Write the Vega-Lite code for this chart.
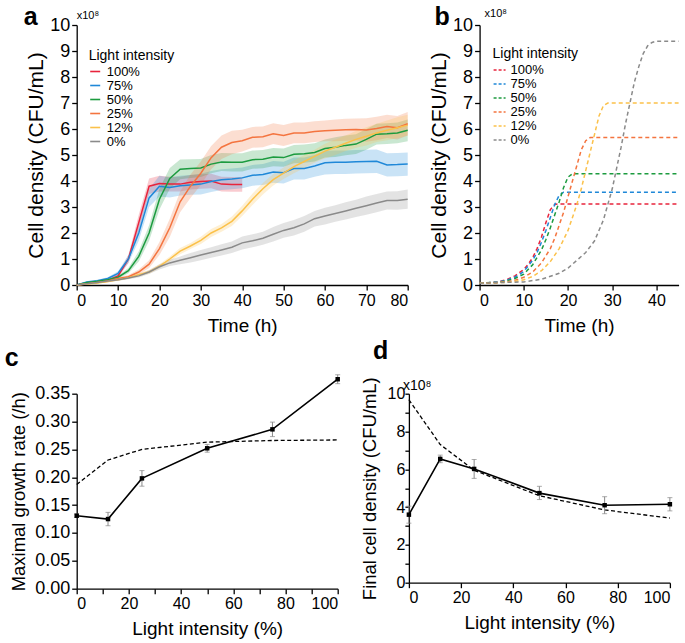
{
  "$schema": "https://vega.github.io/schema/vega-lite/v6.json",
  "padding": {"left": 4.7, "top": 5, "right": 0, "bottom": 0},
  "config": {
    "font": "Liberation Sans",
    "view": {"stroke": null},
    "axis": {"grid": false, "labelOverlap": false, "labelBound": false, "tickCount": 40, "domainColor": "black", "tickColor": "black", "labelColor": "black", "titleColor": "black", "titleFontWeight": "normal", "domainWidth": 1.3, "tickWidth": 1.3, "tickSize": 5, "labelPadding": 2, "labelFont": "Liberation Sans", "titleFont": "Liberation Sans"},
    "legend": {"titleFontWeight": "normal", "titleColor": "black", "labelColor": "black", "titleFont": "Liberation Sans", "labelFont": "Liberation Sans"}
  },
  "datasets": {
    "growth": [
      {"s":"100%","t":0,"v":0,"lo":0,"hi":0.01},{"s":"100%","t":2.5,"v":0.08,"lo":0.05,"hi":0.11},{"s":"100%","t":5,"v":0.13,"lo":0.1,"hi":0.16},{"s":"100%","t":7.5,"v":0.18,"lo":0.13,"hi":0.23},{"s":"100%","t":10,"v":0.35,"lo":0.27,"hi":0.43},{"s":"100%","t":12.5,"v":1.0,"lo":0.85,"hi":1.15},{"s":"100%","t":15,"v":2.4,"lo":2.1,"hi":2.7},{"s":"100%","t":17.5,"v":3.8,"lo":3.5,"hi":4.1},{"s":"100%","t":20,"v":3.9,"lo":3.6,"hi":4.2},{"s":"100%","t":22.5,"v":3.88,"lo":3.6,"hi":4.16},{"s":"100%","t":25,"v":3.88,"lo":3.6,"hi":4.16},{"s":"100%","t":27.5,"v":3.95,"lo":3.67,"hi":4.23},{"s":"100%","t":30,"v":3.98,"lo":3.7,"hi":4.26},{"s":"100%","t":32.5,"v":4.0,"lo":3.72,"hi":4.28},{"s":"100%","t":35,"v":3.88,"lo":3.6,"hi":4.16},{"s":"100%","t":37.5,"v":3.87,"lo":3.59,"hi":4.15},{"s":"100%","t":40,"v":3.87,"lo":3.59,"hi":4.15},
      {"s":"75%","t":0,"v":0,"lo":0,"hi":0.01},{"s":"75%","t":2.5,"v":0.12,"lo":0.09,"hi":0.15},{"s":"75%","t":5,"v":0.16,"lo":0.12,"hi":0.2},{"s":"75%","t":7.5,"v":0.25,"lo":0.2,"hi":0.3},{"s":"75%","t":10,"v":0.45,"lo":0.37,"hi":0.53},{"s":"75%","t":12.5,"v":1.0,"lo":0.85,"hi":1.15},{"s":"75%","t":15,"v":2.0,"lo":1.7,"hi":2.3},{"s":"75%","t":17.5,"v":3.35,"lo":3.0,"hi":3.7},{"s":"75%","t":20,"v":3.8,"lo":3.4,"hi":4.2},{"s":"75%","t":22.5,"v":3.75,"lo":3.37,"hi":4.13},{"s":"75%","t":25,"v":3.82,"lo":3.44,"hi":4.2},{"s":"75%","t":27.5,"v":3.85,"lo":3.47,"hi":4.23},{"s":"75%","t":30,"v":3.88,"lo":3.48,"hi":4.28},{"s":"75%","t":32.5,"v":3.98,"lo":3.58,"hi":4.38},{"s":"75%","t":35,"v":4.05,"lo":3.65,"hi":4.45},{"s":"75%","t":37.5,"v":4.08,"lo":3.68,"hi":4.48},{"s":"75%","t":40,"v":4.12,"lo":3.72,"hi":4.52},{"s":"75%","t":42.5,"v":4.22,"lo":3.82,"hi":4.62},{"s":"75%","t":45,"v":4.25,"lo":3.85,"hi":4.65},{"s":"75%","t":47.5,"v":4.35,"lo":3.93,"hi":4.77},{"s":"75%","t":50,"v":4.32,"lo":3.9,"hi":4.74},{"s":"75%","t":52.5,"v":4.48,"lo":4.06,"hi":4.9},{"s":"75%","t":55,"v":4.48,"lo":4.06,"hi":4.9},{"s":"75%","t":57.5,"v":4.58,"lo":4.16,"hi":5.0},{"s":"75%","t":60,"v":4.7,"lo":4.25,"hi":5.15},{"s":"75%","t":62.5,"v":4.72,"lo":4.27,"hi":5.17},{"s":"75%","t":65,"v":4.72,"lo":4.27,"hi":5.17},{"s":"75%","t":67.5,"v":4.74,"lo":4.29,"hi":5.19},{"s":"75%","t":70,"v":4.75,"lo":4.3,"hi":5.2},{"s":"75%","t":72.5,"v":4.76,"lo":4.31,"hi":5.21},{"s":"75%","t":75,"v":4.62,"lo":4.17,"hi":5.07},{"s":"75%","t":77.5,"v":4.63,"lo":4.18,"hi":5.08},{"s":"75%","t":80,"v":4.65,"lo":4.2,"hi":5.1},
      {"s":"50%","t":0,"v":0,"lo":0,"hi":0.01},{"s":"50%","t":2.5,"v":0.1,"lo":0.07,"hi":0.13},{"s":"50%","t":5,"v":0.14,"lo":0.11,"hi":0.17},{"s":"50%","t":7.5,"v":0.2,"lo":0.16,"hi":0.24},{"s":"50%","t":10,"v":0.3,"lo":0.24,"hi":0.36},{"s":"50%","t":12.5,"v":0.55,"lo":0.45,"hi":0.65},{"s":"50%","t":15,"v":1.1,"lo":0.9,"hi":1.3},{"s":"50%","t":17.5,"v":2.0,"lo":1.7,"hi":2.3},{"s":"50%","t":20,"v":3.3,"lo":2.9,"hi":3.7},{"s":"50%","t":22.5,"v":4.1,"lo":3.7,"hi":4.5},{"s":"50%","t":25,"v":4.45,"lo":4.07,"hi":4.83},{"s":"50%","t":27.5,"v":4.48,"lo":4.12,"hi":4.84},{"s":"50%","t":30,"v":4.5,"lo":4.15,"hi":4.85},{"s":"50%","t":32.5,"v":4.65,"lo":4.3,"hi":5.0},{"s":"50%","t":35,"v":4.73,"lo":4.38,"hi":5.08},{"s":"50%","t":37.5,"v":4.72,"lo":4.37,"hi":5.07},{"s":"50%","t":40,"v":4.72,"lo":4.37,"hi":5.07},{"s":"50%","t":42.5,"v":4.82,"lo":4.47,"hi":5.17},{"s":"50%","t":45,"v":4.84,"lo":4.49,"hi":5.19},{"s":"50%","t":47.5,"v":4.92,"lo":4.57,"hi":5.27},{"s":"50%","t":50,"v":4.9,"lo":4.55,"hi":5.25},{"s":"50%","t":52.5,"v":5.03,"lo":4.68,"hi":5.38},{"s":"50%","t":55,"v":5.05,"lo":4.7,"hi":5.4},{"s":"50%","t":57.5,"v":5.1,"lo":4.75,"hi":5.45},{"s":"50%","t":60,"v":5.25,"lo":4.9,"hi":5.6},{"s":"50%","t":62.5,"v":5.3,"lo":4.92,"hi":5.68},{"s":"50%","t":65,"v":5.37,"lo":4.99,"hi":5.75},{"s":"50%","t":67.5,"v":5.42,"lo":5.04,"hi":5.8},{"s":"50%","t":70,"v":5.6,"lo":5.2,"hi":6.0},{"s":"50%","t":72.5,"v":5.8,"lo":5.4,"hi":6.2},{"s":"50%","t":75,"v":5.82,"lo":5.42,"hi":6.22},{"s":"50%","t":77.5,"v":5.85,"lo":5.45,"hi":6.25},{"s":"50%","t":80,"v":5.95,"lo":5.53,"hi":6.37},
      {"s":"25%","t":0,"v":0,"lo":0,"hi":0.01},{"s":"25%","t":2.5,"v":0.05,"lo":0.03,"hi":0.07},{"s":"25%","t":5,"v":0.1,"lo":0.07,"hi":0.13},{"s":"25%","t":7.5,"v":0.15,"lo":0.11,"hi":0.19},{"s":"25%","t":10,"v":0.25,"lo":0.2,"hi":0.3},{"s":"25%","t":12.5,"v":0.32,"lo":0.26,"hi":0.38},{"s":"25%","t":15,"v":0.5,"lo":0.4,"hi":0.6},{"s":"25%","t":17.5,"v":0.8,"lo":0.65,"hi":0.95},{"s":"25%","t":20,"v":1.4,"lo":1.15,"hi":1.65},{"s":"25%","t":22.5,"v":2.2,"lo":1.85,"hi":2.55},{"s":"25%","t":25,"v":3.2,"lo":2.8,"hi":3.6},{"s":"25%","t":27.5,"v":3.8,"lo":3.35,"hi":4.25},{"s":"25%","t":30,"v":4.3,"lo":3.85,"hi":4.75},{"s":"25%","t":32.5,"v":4.9,"lo":4.45,"hi":5.35},{"s":"25%","t":35,"v":5.3,"lo":4.85,"hi":5.75},{"s":"25%","t":37.5,"v":5.48,"lo":5.03,"hi":5.93},{"s":"25%","t":40,"v":5.55,"lo":5.13,"hi":5.97},{"s":"25%","t":42.5,"v":5.68,"lo":5.28,"hi":6.08},{"s":"25%","t":45,"v":5.7,"lo":5.3,"hi":6.1},{"s":"25%","t":47.5,"v":5.82,"lo":5.42,"hi":6.22},{"s":"25%","t":50,"v":5.75,"lo":5.35,"hi":6.15},{"s":"25%","t":52.5,"v":5.85,"lo":5.45,"hi":6.25},{"s":"25%","t":55,"v":5.85,"lo":5.45,"hi":6.25},{"s":"25%","t":57.5,"v":5.9,"lo":5.5,"hi":6.3},{"s":"25%","t":60,"v":5.93,"lo":5.53,"hi":6.33},{"s":"25%","t":62.5,"v":5.95,"lo":5.53,"hi":6.37},{"s":"25%","t":65,"v":5.97,"lo":5.55,"hi":6.39},{"s":"25%","t":67.5,"v":5.98,"lo":5.56,"hi":6.4},{"s":"25%","t":70,"v":5.96,"lo":5.51,"hi":6.41},{"s":"25%","t":72.5,"v":6.02,"lo":5.57,"hi":6.47},{"s":"25%","t":75,"v":6.1,"lo":5.65,"hi":6.55},{"s":"25%","t":77.5,"v":6.05,"lo":5.6,"hi":6.5},{"s":"25%","t":80,"v":6.2,"lo":5.75,"hi":6.65},
      {"s":"12%","t":0,"v":0,"lo":0,"hi":0.01},{"s":"12%","t":2.5,"v":0.04,"lo":0.02,"hi":0.06},{"s":"12%","t":5,"v":0.08,"lo":0.06,"hi":0.1},{"s":"12%","t":7.5,"v":0.13,"lo":0.1,"hi":0.16},{"s":"12%","t":10,"v":0.2,"lo":0.16,"hi":0.24},{"s":"12%","t":12.5,"v":0.28,"lo":0.23,"hi":0.33},{"s":"12%","t":15,"v":0.4,"lo":0.34,"hi":0.46},{"s":"12%","t":17.5,"v":0.5,"lo":0.43,"hi":0.57},{"s":"12%","t":20,"v":0.72,"lo":0.64,"hi":0.8},{"s":"12%","t":22.5,"v":1.0,"lo":0.9,"hi":1.1},{"s":"12%","t":25,"v":1.3,"lo":1.18,"hi":1.42},{"s":"12%","t":27.5,"v":1.5,"lo":1.38,"hi":1.62},{"s":"12%","t":30,"v":1.72,"lo":1.58,"hi":1.86},{"s":"12%","t":32.5,"v":2.0,"lo":1.85,"hi":2.15},{"s":"12%","t":35,"v":2.2,"lo":2.05,"hi":2.35},{"s":"12%","t":37.5,"v":2.45,"lo":2.27,"hi":2.63},{"s":"12%","t":40,"v":2.85,"lo":2.65,"hi":3.05},{"s":"12%","t":42.5,"v":3.3,"lo":3.08,"hi":3.52},{"s":"12%","t":45,"v":3.7,"lo":3.48,"hi":3.92},{"s":"12%","t":47.5,"v":4.05,"lo":3.83,"hi":4.27},{"s":"12%","t":50,"v":4.3,"lo":4.08,"hi":4.52},{"s":"12%","t":52.5,"v":4.55,"lo":4.3,"hi":4.8},{"s":"12%","t":55,"v":4.75,"lo":4.5,"hi":5.0},{"s":"12%","t":57.5,"v":4.95,"lo":4.7,"hi":5.2},{"s":"12%","t":60,"v":5.15,"lo":4.87,"hi":5.43},{"s":"12%","t":62.5,"v":5.3,"lo":5.0,"hi":5.6},{"s":"12%","t":65,"v":5.45,"lo":5.15,"hi":5.75},{"s":"12%","t":67.5,"v":5.6,"lo":5.28,"hi":5.92},{"s":"12%","t":70,"v":5.72,"lo":5.37,"hi":6.07},{"s":"12%","t":72.5,"v":5.85,"lo":5.5,"hi":6.2},{"s":"12%","t":75,"v":5.95,"lo":5.57,"hi":6.33},{"s":"12%","t":77.5,"v":6.05,"lo":5.65,"hi":6.45},{"s":"12%","t":80,"v":6.15,"lo":5.75,"hi":6.55},
      {"s":"0%","t":0,"v":0,"lo":0,"hi":0.01},{"s":"0%","t":2.5,"v":0.05,"lo":0.03,"hi":0.07},{"s":"0%","t":5,"v":0.1,"lo":0.08,"hi":0.12},{"s":"0%","t":7.5,"v":0.15,"lo":0.12,"hi":0.18},{"s":"0%","t":10,"v":0.2,"lo":0.16,"hi":0.24},{"s":"0%","t":12.5,"v":0.27,"lo":0.22,"hi":0.32},{"s":"0%","t":15,"v":0.35,"lo":0.29,"hi":0.41},{"s":"0%","t":17.5,"v":0.5,"lo":0.42,"hi":0.58},{"s":"0%","t":20,"v":0.7,"lo":0.6,"hi":0.8},{"s":"0%","t":22.5,"v":0.85,"lo":0.73,"hi":0.97},{"s":"0%","t":25,"v":0.95,"lo":0.8,"hi":1.1},{"s":"0%","t":27.5,"v":1.05,"lo":0.87,"hi":1.23},{"s":"0%","t":30,"v":1.15,"lo":0.95,"hi":1.35},{"s":"0%","t":32.5,"v":1.25,"lo":1.05,"hi":1.45},{"s":"0%","t":35,"v":1.35,"lo":1.13,"hi":1.57},{"s":"0%","t":37.5,"v":1.45,"lo":1.23,"hi":1.67},{"s":"0%","t":40,"v":1.62,"lo":1.37,"hi":1.87},{"s":"0%","t":42.5,"v":1.7,"lo":1.45,"hi":1.95},{"s":"0%","t":45,"v":1.8,"lo":1.55,"hi":2.05},{"s":"0%","t":47.5,"v":1.95,"lo":1.67,"hi":2.23},{"s":"0%","t":50,"v":2.1,"lo":1.82,"hi":2.38},{"s":"0%","t":52.5,"v":2.2,"lo":1.9,"hi":2.5},{"s":"0%","t":55,"v":2.35,"lo":2.05,"hi":2.65},{"s":"0%","t":57.5,"v":2.55,"lo":2.25,"hi":2.85},{"s":"0%","t":60,"v":2.65,"lo":2.33,"hi":2.97},{"s":"0%","t":62.5,"v":2.75,"lo":2.43,"hi":3.07},{"s":"0%","t":65,"v":2.85,"lo":2.52,"hi":3.18},{"s":"0%","t":67.5,"v":2.95,"lo":2.62,"hi":3.28},{"s":"0%","t":70,"v":3.05,"lo":2.7,"hi":3.4},{"s":"0%","t":72.5,"v":3.15,"lo":2.8,"hi":3.5},{"s":"0%","t":75,"v":3.25,"lo":2.9,"hi":3.6},{"s":"0%","t":77.5,"v":3.25,"lo":2.89,"hi":3.61},{"s":"0%","t":80,"v":3.3,"lo":2.93,"hi":3.67}
    ],
    "model": [
      {"s":"100%","t":0,"v":0.08},{"s":"100%","t":2,"v":0.09},{"s":"100%","t":4,"v":0.12},{"s":"100%","t":6,"v":0.2},{"s":"100%","t":8,"v":0.35},{"s":"100%","t":10,"v":0.6},{"s":"100%","t":11,"v":0.8},{"s":"100%","t":12,"v":1.05},{"s":"100%","t":13,"v":1.4},{"s":"100%","t":14,"v":1.85},{"s":"100%","t":15,"v":2.4},{"s":"100%","t":16,"v":2.9},{"s":"100%","t":17,"v":3.1},{"s":"100%","t":18,"v":3.12},{"s":"100%","t":45,"v":3.12},
      {"s":"75%","t":0,"v":0.08},{"s":"75%","t":2,"v":0.09},{"s":"75%","t":4,"v":0.11},{"s":"75%","t":6,"v":0.18},{"s":"75%","t":8,"v":0.3},{"s":"75%","t":10,"v":0.52},{"s":"75%","t":12,"v":0.95},{"s":"75%","t":13,"v":1.25},{"s":"75%","t":14,"v":1.65},{"s":"75%","t":15,"v":2.1},{"s":"75%","t":16,"v":2.6},{"s":"75%","t":17,"v":3.1},{"s":"75%","t":18,"v":3.45},{"s":"75%","t":19,"v":3.57},{"s":"75%","t":45,"v":3.57},
      {"s":"50%","t":0,"v":0.08},{"s":"50%","t":4,"v":0.1},{"s":"50%","t":6,"v":0.15},{"s":"50%","t":8,"v":0.25},{"s":"50%","t":10,"v":0.42},{"s":"50%","t":12,"v":0.78},{"s":"50%","t":14,"v":1.35},{"s":"50%","t":15,"v":1.75},{"s":"50%","t":16,"v":2.2},{"s":"50%","t":17,"v":2.7},{"s":"50%","t":18,"v":3.2},{"s":"50%","t":19,"v":3.75},{"s":"50%","t":20,"v":4.15},{"s":"50%","t":21,"v":4.28},{"s":"50%","t":45,"v":4.28},
      {"s":"25%","t":0,"v":0.07},{"s":"25%","t":4,"v":0.09},{"s":"25%","t":6,"v":0.12},{"s":"25%","t":8,"v":0.18},{"s":"25%","t":10,"v":0.3},{"s":"25%","t":12,"v":0.5},{"s":"25%","t":14,"v":0.85},{"s":"25%","t":16,"v":1.4},{"s":"25%","t":17,"v":1.8},{"s":"25%","t":18,"v":2.3},{"s":"25%","t":19,"v":2.8},{"s":"25%","t":20,"v":3.4},{"s":"25%","t":21,"v":4.0},{"s":"25%","t":22,"v":4.6},{"s":"25%","t":23,"v":5.2},{"s":"25%","t":24,"v":5.55},{"s":"25%","t":25,"v":5.67},{"s":"25%","t":45,"v":5.67},
      {"s":"12%","t":0,"v":0.07},{"s":"12%","t":6,"v":0.1},{"s":"12%","t":8,"v":0.14},{"s":"12%","t":10,"v":0.2},{"s":"12%","t":12,"v":0.33},{"s":"12%","t":14,"v":0.55},{"s":"12%","t":16,"v":0.9},{"s":"12%","t":18,"v":1.4},{"s":"12%","t":20,"v":2.1},{"s":"12%","t":21,"v":2.6},{"s":"12%","t":22,"v":3.1},{"s":"12%","t":23,"v":3.7},{"s":"12%","t":24,"v":4.4},{"s":"12%","t":25,"v":5.1},{"s":"12%","t":26,"v":5.8},{"s":"12%","t":27,"v":6.5},{"s":"12%","t":28,"v":6.9},{"s":"12%","t":29,"v":7.0},{"s":"12%","t":45,"v":7.0},
      {"s":"0%","t":0,"v":0.07},{"s":"0%","t":10,"v":0.12},{"s":"0%","t":14,"v":0.22},{"s":"0%","t":18,"v":0.45},{"s":"0%","t":20,"v":0.65},{"s":"0%","t":22,"v":0.95},{"s":"0%","t":24,"v":1.25},{"s":"0%","t":26,"v":1.7},{"s":"0%","t":28,"v":2.5},{"s":"0%","t":29,"v":3.1},{"s":"0%","t":30,"v":3.7},{"s":"0%","t":31,"v":4.5},{"s":"0%","t":32,"v":5.3},{"s":"0%","t":33,"v":6.2},{"s":"0%","t":34,"v":7.0},{"s":"0%","t":35,"v":7.8},{"s":"0%","t":36,"v":8.4},{"s":"0%","t":37,"v":8.9},{"s":"0%","t":38,"v":9.2},{"s":"0%","t":39,"v":9.33},{"s":"0%","t":40,"v":9.38},{"s":"0%","t":45,"v":9.38}
    ],
    "rateObs": [
      {"x":0,"v":0.131,"lo":0.128,"hi":0.134},{"x":12,"v":0.125,"lo":0.113,"hi":0.137},{"x":25,"v":0.198,"lo":0.184,"hi":0.212},{"x":50,"v":0.252,"lo":0.245,"hi":0.259},{"x":75,"v":0.286,"lo":0.273,"hi":0.299},{"x":100,"v":0.376,"lo":0.368,"hi":0.384}
    ],
    "rateModel": [
      {"x":0,"v":0.187},{"x":12,"v":0.231},{"x":25,"v":0.25},{"x":50,"v":0.263},{"x":75,"v":0.266},{"x":100,"v":0.267}
    ],
    "finalObs": [
      {"x":0,"v":3.6,"lo":3.15,"hi":4.05},{"x":12,"v":6.55,"lo":6.35,"hi":6.75},{"x":25,"v":6.02,"lo":5.52,"hi":6.52},{"x":50,"v":4.74,"lo":4.4,"hi":5.1},{"x":75,"v":4.1,"lo":3.65,"hi":4.55},{"x":100,"v":4.15,"lo":3.8,"hi":4.5}
    ],
    "finalModel": [
      {"x":0,"v":9.68},{"x":12,"v":7.31},{"x":25,"v":5.95},{"x":50,"v":4.6},{"x":75,"v":3.85},{"x":100,"v":3.42}
    ],
    "notes": [{"lab": "x10⁸"}]
  },
  "align": "none",
  "vconcat": [
    {
      "hconcat": [
        {
          "width": 331, "height": 260,
          "layer": [
            {
              "data": {"name": "growth"},
              "mark": {"type": "area", "opacity": 0.24},
              "encoding": {
                "x": {"field": "t", "type": "quantitative", "scale": {"domain": [0, 80]}, "axis": {"title": "Time (h)", "values": [0,10,20,30,40,50,60,70,80], "labelFontSize": 16, "titleFontSize": 19, "titlePadding": 9}},
                "y": {"field": "lo", "type": "quantitative", "title": "Cell density (CFU/mL)", "scale": {"domain": [0, 10]}, "axis": {"values": [0,1,2,3,4,5,6,7,8,9,10], "format": "d", "labelFontSize": 18, "titleFontSize": 21, "titlePadding": 3}},
                "y2": {"field": "hi"},
                "color": {"field": "s", "type": "nominal", "scale": {"domain": ["100%","75%","50%","25%","12%","0%"], "range": ["#e8243c","#1f88d8","#1c9b3f","#f4743f","#fbc14a","#8a8a8a"]}, "legend": null}
              }
            },
            {
              "data": {"name": "growth"},
              "mark": {"type": "line", "strokeWidth": 1.5},
              "encoding": {
                "x": {"field": "t", "type": "quantitative"},
                "y": {"field": "v", "type": "quantitative", "title": "Cell density (CFU/mL)"},
                "color": {"field": "s", "type": "nominal", "legend": {"title": "Light intensity", "orient": "none", "legendX": 12, "legendY": 24, "titleFontSize": 14, "labelFontSize": 13, "symbolType": "stroke", "symbolSize": 100, "symbolStrokeWidth": 1.6, "symbolOpacity": 1, "rowPadding": -2.3, "titlePadding": 2, "labelOffset": 5}}
              }
            },
            {
              "data": {"name": "notes"},
              "mark": {"type": "text", "align": "left", "baseline": "alphabetic", "dx": 0, "dy": -6, "fontSize": 11, "color": "black"},
              "encoding": {"x": {"datum": 0, "type": "quantitative"}, "y": {"datum": 10, "type": "quantitative"}, "text": {"field": "lab"}}
            },
            {
              "data": {"values": [{"p": "a"}]},
              "mark": {"type": "text", "align": "left", "baseline": "alphabetic", "dx": -53, "dy": 0, "fontSize": 25, "fontWeight": "bold", "color": "black"},
              "encoding": {"x": {"datum": 0, "type": "quantitative"}, "y": {"datum": 10, "type": "quantitative"}, "text": {"field": "p"}}
            }
          ],
          "resolve": {"legend": {"color": "independent"}}
        },
        {
          "width": 199, "height": 260,
          "layer": [
            {
              "data": {"name": "model"},
              "mark": {"type": "line", "strokeWidth": 1.5, "strokeDash": [4, 3]},
              "encoding": {
                "x": {"field": "t", "type": "quantitative", "scale": {"domain": [0, 45], "nice": false}, "axis": {"title": "Time (h)", "values": [0,10,20,30,40], "labelFontSize": 16, "titleFontSize": 19, "titlePadding": 9}},
                "y": {"field": "v", "type": "quantitative", "scale": {"domain": [0, 10]}, "axis": {"title": "Cell density (CFU/mL)", "values": [0,1,2,3,4,5,6,7,8,9,10], "format": "d", "labelFontSize": 18, "titleFontSize": 21, "titlePadding": 3}},
                "color": {"field": "s", "type": "nominal", "scale": {"domain": ["100%","75%","50%","25%","12%","0%"], "range": ["#e8243c","#1f88d8","#1c9b3f","#f4743f","#fbc14a","#8a8a8a"]}, "legend": {"title": "Light intensity", "orient": "none", "legendX": 13, "legendY": 22, "titleFontSize": 14, "labelFontSize": 13, "symbolType": "stroke", "symbolSize": 144, "symbolStrokeWidth": 1.5, "symbolDash": [3, 2], "rowPadding": -2.3, "titlePadding": 2, "labelOffset": 4}}
              }
            },
            {
              "data": {"name": "notes"},
              "mark": {"type": "text", "align": "left", "baseline": "alphabetic", "dx": 5, "dy": -8, "fontSize": 11, "color": "black"},
              "encoding": {"x": {"datum": 0, "type": "quantitative"}, "y": {"datum": 10, "type": "quantitative"}, "text": {"field": "lab"}}
            },
            {
              "data": {"values": [{"p": "b"}]},
              "mark": {"type": "text", "align": "left", "baseline": "alphabetic", "dx": -45, "dy": 0, "fontSize": 25, "fontWeight": "bold", "color": "black"},
              "encoding": {"x": {"datum": 0, "type": "quantitative"}, "y": {"datum": 10, "type": "quantitative"}, "text": {"field": "p"}}
            }
          ]
        }
      ],
      "spacing": 16.9,
      "resolve": {"scale": {"color": "independent"}, "legend": {"color": "independent"}}
    },
    {
      "align": "none",
      "hconcat": [
        {
          "width": 261, "height": 195,
          "layer": [
            {
              "data": {"name": "rateModel"},
              "mark": {"type": "line", "color": "black", "strokeWidth": 1.3, "strokeDash": [4, 2.5]},
              "encoding": {
                "x": {"field": "x", "type": "quantitative", "scale": {"domain": [0, 100]}, "axis": {"title": "Light intensity (%)", "values": [0,10,20,30,40,50,60,70,80,90,100], "labelExpr": "datum.value % 20 == 0 ? datum.label : ''", "labelFontSize": 16, "titleFontSize": 19, "titlePadding": 8}},
                "y": {"field": "v", "type": "quantitative", "title": "Maximal growth rate (/h)", "scale": {"domain": [0, 0.35]}, "axis": {"values": [0,0.05,0.1,0.15,0.2,0.25,0.3,0.35], "format": ".2f", "labelFontSize": 18, "titleFontSize": 18.5, "titlePadding": 6}}
              }
            },
            {
              "data": {"name": "rateObs"},
              "mark": {"type": "errorbar", "color": "#888888", "thickness": 1, "ticks": {"size": 5, "color": "#888888"}},
              "encoding": {
                "x": {"field": "x", "type": "quantitative"},
                "y": {"field": "lo", "type": "quantitative", "title": "Maximal growth rate (/h)"},
                "y2": {"field": "hi"}
              }
            },
            {
              "data": {"name": "rateObs"},
              "mark": {"type": "line", "color": "black", "strokeWidth": 1.6, "point": {"shape": "square", "size": 20, "color": "black", "filled": true, "opacity": 1}},
              "encoding": {
                "x": {"field": "x", "type": "quantitative"},
                "y": {"field": "v", "type": "quantitative", "title": "Maximal growth rate (/h)"}
              }
            },
            {
              "data": {"values": [{"p": "c"}]},
              "mark": {"type": "text", "align": "left", "baseline": "alphabetic", "dx": -72, "dy": -28, "fontSize": 25, "fontWeight": "bold", "color": "black"},
              "encoding": {"x": {"datum": 0, "type": "quantitative"}, "y": {"datum": 0.35, "type": "quantitative"}, "text": {"field": "p"}}
            }
          ]
        },
        {
          "width": 261, "height": 189,
          "layer": [
            {
              "data": {"name": "finalModel"},
              "mark": {"type": "line", "color": "black", "strokeWidth": 1.3, "strokeDash": [4, 2.5]},
              "encoding": {
                "x": {"field": "x", "type": "quantitative", "scale": {"domain": [0, 100]}, "axis": {"title": "Light intensity (%)", "values": [0,20,40,60,80,100], "labelFontSize": 16, "titleFontSize": 19, "titlePadding": 8}},
                "y": {"field": "v", "type": "quantitative", "title": "Final cell density (CFU/mL)", "scale": {"domain": [0, 10]}, "axis": {"values": [0,1,2,3,4,5,6,7,8,9,10], "format": "d", "labelExpr": "datum.value % 2 == 0 ? datum.label : ''", "labelFontSize": 16, "titleFontSize": 18.5, "titlePadding": 8, "tickSize": 4, "labelPadding": 0}}
              }
            },
            {
              "data": {"name": "finalObs"},
              "mark": {"type": "errorbar", "color": "#888888", "thickness": 1, "ticks": {"size": 5, "color": "#888888"}},
              "encoding": {
                "x": {"field": "x", "type": "quantitative"},
                "y": {"field": "lo", "type": "quantitative", "title": "Final cell density (CFU/mL)"},
                "y2": {"field": "hi"}
              }
            },
            {
              "data": {"name": "finalObs"},
              "mark": {"type": "line", "color": "black", "strokeWidth": 1.6, "point": {"shape": "square", "size": 20, "color": "black", "filled": true, "opacity": 1}},
              "encoding": {
                "x": {"field": "x", "type": "quantitative"},
                "y": {"field": "v", "type": "quantitative", "title": "Final cell density (CFU/mL)"}
              }
            },
            {
              "data": {"name": "notes"},
              "mark": {"type": "text", "align": "left", "baseline": "alphabetic", "dx": -6, "dy": -4, "fontSize": 14, "color": "black"},
              "encoding": {"x": {"datum": 0, "type": "quantitative"}, "y": {"datum": 10, "type": "quantitative"}, "text": {"field": "lab"}}
            },
            {
              "data": {"values": [{"p": "d"}]},
              "mark": {"type": "text", "align": "left", "baseline": "alphabetic", "dx": -36, "dy": -34.6, "fontSize": 25, "fontWeight": "bold", "color": "black"},
              "encoding": {"x": {"datum": 0, "type": "quantitative"}, "y": {"datum": 10, "type": "quantitative"}, "text": {"field": "p"}}
            }
          ]
        }
      ],
      "spacing": 18.2
    }
  ],
  "spacing": 2.7
}
